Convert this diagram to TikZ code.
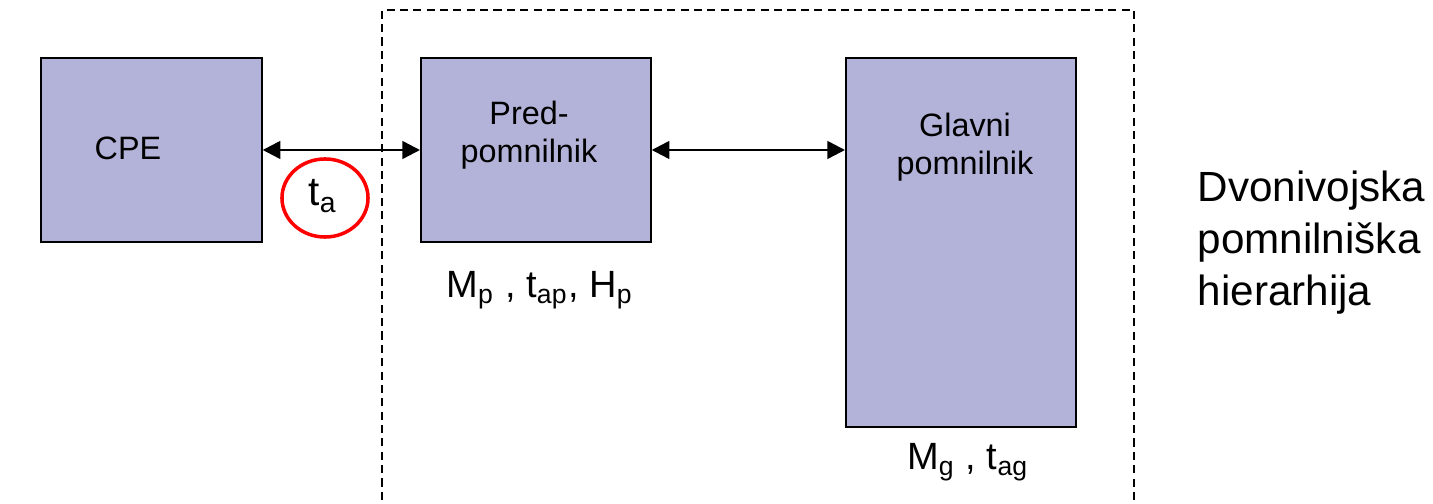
\documentclass[tikz,border=0pt]{standalone}
\usepackage{fontspec}
\setmainfont{Liberation Sans}
\usetikzlibrary{arrows.meta,shapes.geometric}
\definecolor{boxfill}{RGB}{179,179,217}
\begin{document}
\begin{tikzpicture}[x=0.01cm,y=-0.01cm,
  blk/.style={draw=black,line width=0.45pt,fill=boxfill,inner sep=0pt,anchor=north west},
  boxtxt/.style={font=\fontsize{9.2}{10.8}\selectfont,align=center,inner sep=0pt},
  lbl/.style={font=\fontsize{10.8}{13}\selectfont,inner sep=0pt},
  conn/.style={line width=0.7pt,{Triangle[length=5pt,width=5pt]}-{Triangle[length=5pt,width=5pt]}}]
\useasboundingbox (0,0) rectangle (1433,504);
% dashed region
\draw[line width=0.6pt,dash pattern=on 2.3pt off 1.5pt] (382,540) -- (382,10) -- (1134,10) -- (1134,540);
% boxes
\node[blk,minimum width=2.21cm,minimum height=1.84cm] (cpe) at (40,57) {};
\node[blk,minimum width=2.30cm,minimum height=1.84cm] (pred) at (420,57) {};
\node[blk,minimum width=2.30cm,minimum height=3.69cm] (glav) at (845,57) {};
% box texts
\node[boxtxt] (cpet) at (128,148) {CPE};
\node[boxtxt] (predt) at (529,135) {Pred-\\pomnilnik};
\node[boxtxt] (glavt) at (965,147) {Glavni\\pomnilnik};
% connectors
\draw[conn] (cpe.east |- 0,150) -- (pred.west |- 0,150);
\draw[conn] (pred.east |- 0,150) -- (glav.west |- 0,150);
% circle
\node[draw=red,line width=1pt,ellipse,minimum width=0.86cm,minimum height=0.78cm,inner sep=0pt] (circ) at (325,198) {};
\node[lbl,font=\fontsize{11.5}{13}\selectfont] (ta) at (323,196) {t\textsubscript{a}};
% labels
\node[lbl] (mp) at (540,290) {M\textsubscript{p} , t\textsubscript{ap}, H\textsubscript{p}};
\node[lbl] (mg) at (968,462) {M\textsubscript{g} , t\textsubscript{ag}};
\node[font=\fontsize{12}{14.8}\selectfont,align=left,anchor=west,inner sep=0pt] (title) at (1197,243) {Dvonivojska\\pomnilniška\\hierarhija};
\end{tikzpicture}
\end{document}
